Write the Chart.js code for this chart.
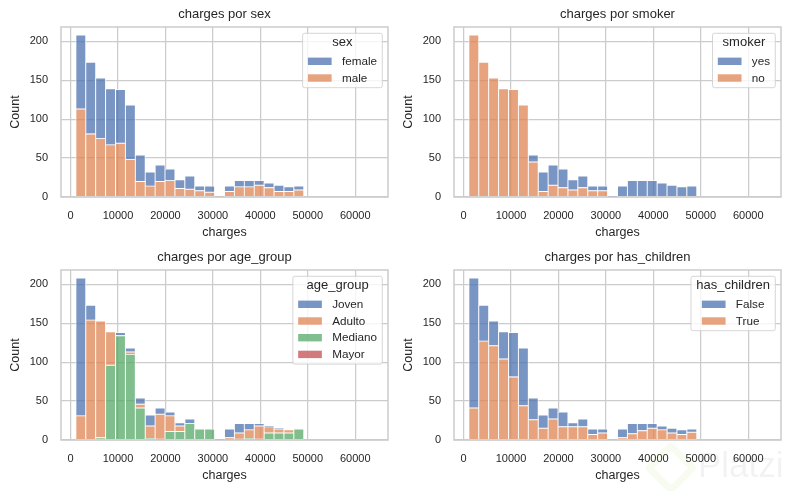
<!DOCTYPE html>
<html>
<head>
<meta charset="utf-8">
<title>charges</title>
<script src="https://cdn.jsdelivr.net/npm/chart.js@4"></script>
<style>
  body { margin: 0; background: #fff; width: 791px; height: 491px; overflow: hidden; position: relative; }
  canvas { position: absolute; }
  #c1 { left: 0; top: 0; }
  #c2 { left: 393px; top: 0; }
  #c3 { left: 0; top: 243px; }
  #c4 { left: 393px; top: 243px; }
  #mark-text { position: absolute; left: 698px; top: 445px; font: 35px "Liberation Sans", sans-serif; color: rgba(0,0,0,0.05); }
  #mark-logo { position: absolute; left: 652px; top: 449px; width: 24px; height: 24px; transform: rotate(45deg); border: 7px solid rgba(170,200,60,0.08); border-radius: 4px; }
</style>
</head>
<body>
<canvas id="c1" width="395" height="245"></canvas>
<canvas id="c2" width="395" height="245"></canvas>
<canvas id="c3" width="395" height="245"></canvas>
<canvas id="c4" width="395" height="245"></canvas>
<div id="mark-logo"></div>
<div id="mark-text">Platzi</div>
<script>
const binCenters = [2165, 4253, 6342, 8430, 10518, 12606, 14695, 16783, 18871, 20959, 23048, 25136, 27224, 29312, 31401, 33489, 35577, 37665, 39754, 41842, 43930, 46018, 48107];

const female = [95, 92, 78, 72, 69, 70, 34, 18, 21, 15, 11, 17, 6, 8, 0, 7, 8, 8, 6, 6, 8, 6, 5];
const male = [113, 81, 75, 67, 69, 48, 20, 14, 20, 21, 11, 10, 8, 6, 1, 7, 13, 13, 15, 12, 7, 7, 9];

const smokerYes = [0, 0, 0, 0, 0, 0, 9, 25, 26, 24, 13, 15, 6, 6, 1, 14, 21, 21, 21, 18, 15, 13, 14];
const smokerNo = [208, 173, 153, 139, 138, 118, 45, 7, 15, 12, 9, 12, 8, 8, 0, 0, 0, 0, 0, 0, 0, 0, 0];

const joven = [177, 19, 0, 0, 4, 5, 8, 14, 8, 5, 4, 6, 0, 0, 1, 11, 12, 8, 3, 1, 1, 0, 0];
const adulto = [31, 154, 150, 43, 0, 3, 5, 16, 32, 20, 7, 0, 0, 0, 0, 2, 8, 11, 17, 8, 5, 4, 0];
const mediano = [0, 0, 3, 96, 134, 110, 41, 2, 1, 11, 11, 21, 14, 14, 0, 1, 1, 2, 1, 9, 9, 9, 14];
const mayor = [0, 0, 0, 0, 0, 0, 0, 0, 0, 0, 0, 0, 0, 0, 0, 0, 0, 0, 0, 0, 0, 0, 0];

const childrenFalse = [167, 46, 32, 35, 57, 74, 28, 17, 14, 19, 5, 10, 7, 5, 0, 11, 13, 9, 6, 5, 6, 6, 4];
const childrenTrue = [41, 127, 121, 104, 81, 44, 26, 15, 27, 17, 17, 17, 7, 9, 1, 3, 8, 12, 15, 13, 9, 7, 10];

const xTicks = [0, 10000, 20000, 30000, 40000, 50000, 60000];

const COLORS = ["rgba(76,114,176,0.75)", "rgba(221,132,82,0.75)", "rgba(85,168,104,0.75)", "rgba(196,78,82,0.75)"];
const FONT = '"Liberation Sans", Arial, sans-serif';
const TEXT = "#262626";
const GRID = "#cccccc";

// spines and the seaborn style legend sit on top of the bars
const framePlugin = {
  id: "frame",
  afterDraw(chart, args, opts) {
    const { ctx, chartArea: a } = chart;
    ctx.save();
    ctx.strokeStyle = GRID;
    ctx.lineWidth = 1.5;
    ctx.strokeRect(a.left, a.top, a.right - a.left, a.bottom - a.top);

    const pad = 5.3, patch = 23.7, gap = 10.3, rowH = 16.7;
    ctx.textBaseline = "middle";
    ctx.font = `13px ${FONT}`;
    const titleW = ctx.measureText(opts.title).width;
    ctx.font = `11.7px ${FONT}`;
    const labelW = Math.max(...opts.names.map((n) => ctx.measureText(n).width));
    const rowW = patch + gap + labelW;
    const w = Math.max(titleW, rowW) + pad * 2;
    const h = 21 + rowH * opts.names.length;
    const x = a.right - 5.7 - w;
    const y = a.top + 6.3;

    ctx.beginPath();
    ctx.roundRect(x, y, w, h, 2);
    ctx.fillStyle = "rgba(255,255,255,0.8)";
    ctx.fill();
    ctx.strokeStyle = GRID;
    ctx.lineWidth = 0.8;
    ctx.stroke();

    ctx.fillStyle = TEXT;
    ctx.textAlign = "center";
    ctx.font = `13px ${FONT}`;
    ctx.fillText(opts.title, x + w / 2, y + 9.5);

    const rowX = x + (w - rowW) / 2;
    ctx.textAlign = "left";
    ctx.font = `11.7px ${FONT}`;
    opts.names.forEach((name, i) => {
      const rowY = y + 28 + rowH * i;
      ctx.fillStyle = COLORS[i];
      ctx.fillRect(rowX, rowY - 3.7, patch, 7.4);
      ctx.fillStyle = TEXT;
      ctx.fillText(name, rowX + patch + gap, rowY + 0.5);
    });
    ctx.restore();
  },
};

function drawPanel(id, hue, names, series) {
  // first hue goes on top of the stack, like histplot multiple="stack"
  const datasets = series
    .map((values, i) => ({
      label: names[i],
      data: values.map((v, j) => ({ x: binCenters[j], y: v })),
      backgroundColor: COLORS[i],
      borderColor: "rgba(255,255,255,0.9)",
      borderWidth: 0.8,
      borderSkipped: false,
      barPercentage: 1,
      categoryPercentage: 1,
    }))
    .reverse();

  new Chart(document.getElementById(id), {
    type: "bar",
    data: { datasets },
    plugins: [framePlugin],
    options: {
      responsive: false,
      animation: false,
      devicePixelRatio: 1,
      layout: { padding: { right: 7 } },
      plugins: {
        legend: { display: false },
        tooltip: { enabled: false },
        title: {
          display: true,
          text: `charges por ${hue}`,
          fullSize: false,
          color: TEXT,
          font: { family: FONT, size: 13, weight: "normal" },
          padding: { top: 7, bottom: 4.4 },
        },
        frame: { title: hue, names },
      },
      scales: {
        x: {
          type: "linear",
          stacked: true,
          offset: false,
          min: -2011,
          max: 66902,
          afterFit: (scale) => { scale.height = 48; },
          afterBuildTicks: (scale) => { scale.ticks = xTicks.map((value) => ({ value })); },
          grid: { color: GRID, lineWidth: 1.25, drawTicks: false, offset: false },
          border: { display: false },
          ticks: {
            color: TEXT,
            font: { family: FONT, size: 11 },
            padding: 12,
            maxRotation: 0,
            callback: (v) => String(v),
          },
          title: {
            display: true,
            text: "charges",
            color: TEXT,
            font: { family: FONT, size: 12.5 },
            padding: { top: 0, bottom: 4.5 },
          },
        },
        y: {
          stacked: true,
          min: 0,
          max: 218.4,
          afterFit: (scale) => { scale.width = 61; },
          grid: { color: GRID, lineWidth: 1.25, drawTicks: false },
          border: { display: false },
          ticks: {
            color: TEXT,
            font: { family: FONT, size: 11 },
            padding: 13,
            stepSize: 50,
            includeBounds: false,
          },
          title: {
            display: true,
            text: "Count",
            color: TEXT,
            font: { family: FONT, size: 12.5 },
            padding: { top: 8, bottom: 0 },
          },
        },
      },
    },
  });
}

drawPanel("c1", "sex", ["female", "male"], [female, male]);
drawPanel("c2", "smoker", ["yes", "no"], [smokerYes, smokerNo]);
drawPanel("c3", "age_group", ["Joven", "Adulto", "Mediano", "Mayor"], [joven, adulto, mediano, mayor]);
drawPanel("c4", "has_children", ["False", "True"], [childrenFalse, childrenTrue]);
</script>
</body>
</html>
